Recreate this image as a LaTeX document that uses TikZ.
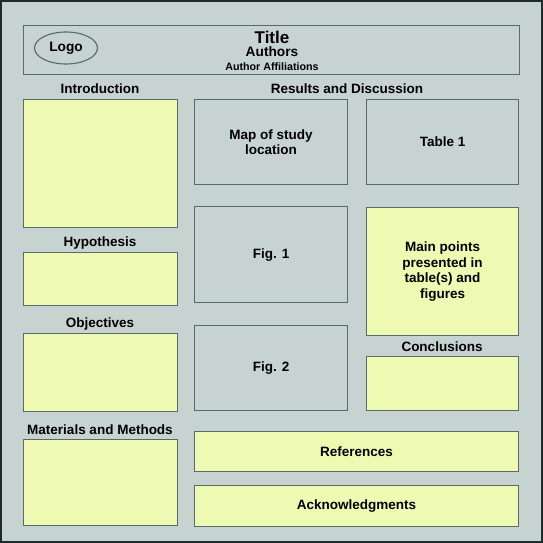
\documentclass[tikz,border=0pt]{standalone}
\usepackage{fontspec}
\setmainfont{Liberation Sans}
\usetikzlibrary{shapes.geometric}
\definecolor{bgc}{HTML}{C7D3D1}
\definecolor{yel}{HTML}{EEF9B2}
\definecolor{edge}{HTML}{566A6A}
\definecolor{frame}{HTML}{1E2B2B}
\tikzset{
  boxbase/.style={draw=edge, line width=1.1pt, anchor=north west, inner sep=0pt, align=center,
    font=\bfseries\fontsize{13.5}{15.5}\selectfont},
  ybox/.style={boxbase, fill=yel},
  gbox/.style={boxbase, fill=bgc},
  lbl/.style={font=\bfseries\fontsize{13.5}{15.5}\selectfont, inner sep=0pt},
}
\begin{document}
\begin{tikzpicture}[x=1pt,y=-1pt]
\useasboundingbox (0,0) rectangle (543,543);
\draw[frame, fill=bgc, line width=2.4pt] (1.2,1.2) rectangle (541.8,541.8);
% title
\node[gbox, minimum width=496pt, minimum height=49pt] (titlebox) at (23,25) {};
\node[ellipse, draw=edge, line width=1.1pt, minimum width=63pt, minimum height=32pt, inner sep=0pt,
  font=\bfseries\fontsize{13.7}{15}\selectfont] (logo) at (66,48) {Logo};
\node[inner sep=0pt, font=\bfseries\fontsize{17}{19}\selectfont] (title) at (272,37) {Title};
\node[inner sep=0pt, font=\bfseries\fontsize{13.7}{15}\selectfont] (authors) at (272,52) {Authors};
\node[inner sep=0pt, font=\bfseries\fontsize{10.7}{12}\selectfont] (affil) at (272,67) {Author Affiliations};
% headings
\node[lbl] (introl) at (100,89) {Introduction};
\node[lbl] (resl) at (347,89) {Results and Discussion};
\node[lbl] (hypl) at (100,243) {Hypothesis};
\node[lbl] (objl) at (100,324) {Objectives};
\node[lbl] (matl) at (100,430) {Materials and Methods};
\node[lbl] (conl) at (442,347) {Conclusions};
% left column
\node[ybox, minimum width=154pt, minimum height=128pt] (intro) at (23,99) {};
\node[ybox, minimum width=154pt, minimum height=53pt] (hyp) at (23,252) {};
\node[ybox, minimum width=154pt, minimum height=78pt] (obj) at (23,333) {};
\node[ybox, minimum width=154pt, minimum height=86pt] (mat) at (23,439) {};
% middle column
\node[gbox, minimum width=153pt, minimum height=85pt] (map) at (194,99) {Map of study\\location};
\node[gbox, minimum width=153pt, minimum height=96pt] (fig1) at (194,206) {Fig. 1};
\node[gbox, minimum width=153pt, minimum height=85pt] (fig2) at (194,325) {Fig. 2};
% right column
\node[gbox, minimum width=152pt, minimum height=85pt] (tab1) at (366,99) {Table 1};
\node[ybox, minimum width=152pt, minimum height=128pt] (main) at (366,207) {Main points\\presented in\\table(s) and\\figures};
\node[ybox, minimum width=152pt, minimum height=54pt] (conc) at (366,356) {};
% bottom
\node[ybox, minimum width=324pt, minimum height=40pt] (refs) at (194,431) {References};
\node[ybox, minimum width=324pt, minimum height=41pt] (ack) at (194,485) {Acknowledgments};
\end{tikzpicture}
\end{document}
